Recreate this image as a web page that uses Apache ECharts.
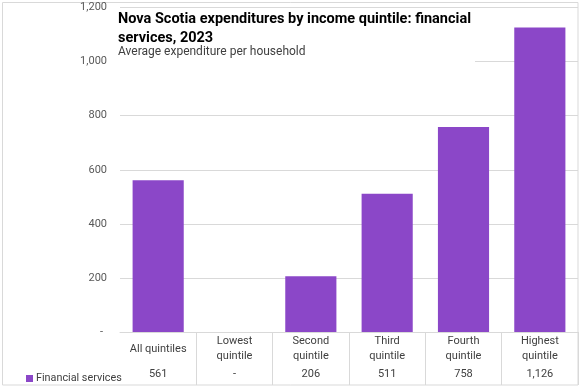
<!DOCTYPE html>
<html><head><meta charset="utf-8">
<script src="https://cdn.jsdelivr.net/npm/echarts@6/dist/echarts.min.js"></script>
<style>html,body{margin:0;padding:0;background:#fff}#c{width:581px;height:387px}</style>
</head><body><div id="c"></div>
<script>
var categories = ['All quintiles', 'Lowest\nquintile', 'Second\nquintile', 'Third\nquintile', 'Fourth\nquintile', 'Highest\nquintile'];
var seriesName = 'Financial services';
var values = [561, null, 206, 511, 758, 1126];
var yTicks = [0, 200, 400, 600, 800, 1000, 1200];
var titleText = 'Nova Scotia expenditures by income quintile: financial\nservices, 2023';
var subText = 'Average expenditure per household';

var FONT = 'Roboto';
var GRID = '#d9d9d9';
function fmt(v){ return (v === null || v === 0) ? '-' : v.toLocaleString('en-US'); }

var chart = echarts.init(document.getElementById('c'), null, {renderer:'canvas'});
chart.setOption({
  animation:false,
  textStyle:{fontFamily:FONT},
  title:{
    text:titleText, subtext:subText, left:116, top:9,
    backgroundColor:'#fff', padding:[1,4,3,2], itemGap:-3,
    textStyle:{fontFamily:FONT, fontSize:14.5, fontWeight:'bold', color:'#000', lineHeight:19},
    subtextStyle:{fontFamily:FONT, fontSize:12, color:'#404040', lineHeight:14}
  },
  legend:{
    left:21, top:368, icon:'rect', itemWidth:7, itemHeight:7, itemGap:4,
    textStyle:{fontFamily:FONT, fontSize:10.8, color:'#404040', padding:[0,0,0,-2]},
    data:[seriesName]
  },
  graphic:[{type:'rect', shape:{x:2.5, y:2.5, width:575.5, height:382.5}, style:{fill:null, stroke:GRID, lineWidth:1}, silent:true, z:-1}],
  grid:[
    {left:120, right:3, top:7.5, bottom:55},
    {left:120, right:3, top:332, bottom:2}
  ],
  xAxis:[
    {type:'category', gridIndex:0, data:categories, axisLine:{show:true, lineStyle:{color:GRID}}, axisTick:{show:false}, axisLabel:{show:false}},
    {type:'category', gridIndex:1, data:categories, position:'top',
     axisLine:{show:false}, axisTick:{show:false},
     splitLine:{show:true, lineStyle:{color:GRID}, interval:function(i){return i>0;}},
     axisLabel:{inside:true, margin:2, interval:0, color:'#404040', fontFamily:FONT,
       formatter:function(v, i){
         var parts = v.split('\n');
         var val = fmt(values[i]);
         if (parts.length === 1) return '{c1|' + parts[0] + '}\n{v|' + val + '}';
         return '{c|' + parts[0] + '}\n{c|' + parts[1] + '}\n{v|' + val + '}';
       },
       rich:{
         c:{fontSize:11, lineHeight:15, color:'#404040', fontFamily:FONT},
         c1:{fontSize:11, lineHeight:30, color:'#404040', fontFamily:FONT},
         v:{fontSize:11, lineHeight:21, color:'#404040', fontFamily:FONT}
       }
     }}
  ],
  yAxis:[
    {type:'value', gridIndex:0, min:0, max:1200, interval:200,
     axisLine:{show:false}, axisTick:{show:false},
     splitLine:{show:true, lineStyle:{color:GRID}},
     axisLabel:{margin:13, color:'#595959', fontSize:11, fontFamily:FONT,
       formatter:function(v){ return v === 0 ? '{d|-}' : v.toLocaleString('en-US'); },
       rich:{d:{fontSize:11, color:'#595959', padding:[0,4,0,0]}}}},
    {type:'value', gridIndex:1, show:false, splitLine:{show:false}}
  ],
  series:[{
    name:seriesName, type:'bar', xAxisIndex:0, yAxisIndex:0,
    data:values, barCategoryGap:'33%',
    itemStyle:{color:'#8b47c8'}
  }]
});
</script></body></html>
